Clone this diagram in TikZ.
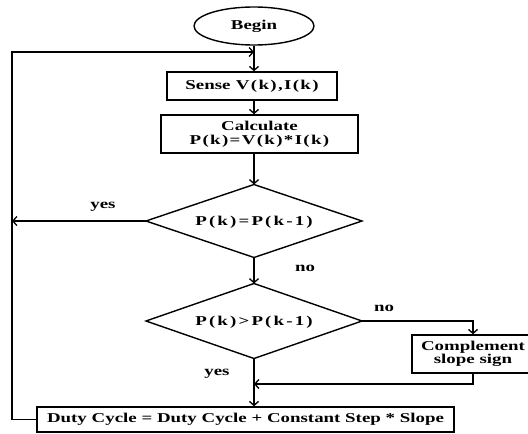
\documentclass[tikz,border=0pt]{standalone}
\usepackage{fontspec}
\newfontfamily\wide[FakeStretch=1.4]{Liberation Serif Bold}
\usetikzlibrary{arrows.meta,shapes.geometric}
\newcommand{\gp}{\hspace{0.1em}}
\newcommand{\gq}{\hspace{0.16em}}
\tikzset{
  flow/.style={line width=1.4pt, draw=black},
  arr/.style={flow, -{Straight Barb[length=4pt,width=9pt,line width=1.3pt]}},
  mainfont/.style={font=\fontsize{13.5}{16}\wide},
  procbox/.style={draw, line width=1.4pt, rectangle, inner sep=0pt, align=center, mainfont},
  dectext/.style={inner sep=0pt, mainfont},
  lbl/.style={mainfont, inner sep=0pt}
}
\begin{document}
\begin{tikzpicture}[x=1pt,y=-1pt]
\useasboundingbox[fill=white] (0,0) rectangle (528,434);
\node[draw, line width=1.4pt, ellipse, minimum width=120pt, minimum height=38pt, inner sep=0pt, mainfont] (begin) at (254,26) {Begin};
\node[procbox, minimum width=170pt, minimum height=28pt] (sense) at (252,86) {Sense\hspace{0.4em}V\gp(\gp k\gp)\gp,\gp I\gp(\gp k\gp)};
\node[procbox, minimum width=197pt, minimum height=38pt] (calc) at (259.5,134) {Calculate\\[-2pt] P\gp(\gp k\gp)\gp=\gp V\gp(\gp k\gp)\gp*\gp I\gp(\gp k\gp)};

% decision 1
\node[dectext] (d1) at (254,222) {P\gq(\gq k\gq)\gq=\gq P\gq(\gq k\gq-\gq 1\gq)};
\coordinate (d1n) at (254,184.5);
\coordinate (d1s) at (254,257.5);
\coordinate (d1w) at (146,221);
\coordinate (d1e) at (362,221);
\draw[flow, line join=miter] (d1n) -- (d1e) -- (d1s) -- (d1w) -- cycle;

% decision 2
\node[dectext] (d2) at (254,322) {P\gq(\gq k\gq)\gq>\gq P\gq(\gq k\gq-\gq 1\gq)};
\coordinate (d2n) at (254,283.5);
\coordinate (d2s) at (254,358.5);
\coordinate (d2w) at (146,321);
\coordinate (d2e) at (362,321);
\draw[flow, line join=miter] (d2n) -- (d2e) -- (d2s) -- (d2w) -- cycle;

\node[procbox, minimum width=122pt, minimum height=38pt] (comp) at (473,354) {Complement\\[-3pt] slope sign};
\node[procbox, minimum width=417pt, minimum height=25pt] (duty) at (245.5,419.5) {Duty Cycle = Duty Cycle + Constant Step * Slope};

\coordinate (topin) at (254,52);
\coordinate (loopbl) at (12,419.5);
\coordinate (looptl) at (12,52);
\coordinate (yesend) at (12,221);
\coordinate (nocorner) at (473,321);
\coordinate (retcorner) at (473,384);
\coordinate (retend) at (254,384);

\draw[flow] (begin.south) -- (topin);
\draw[arr] (topin) -- (topin |- sense.north);
\draw[arr] (sense.south -| topin) -- (topin |- calc.north);
\draw[arr] (calc.south -| topin) -- (d1n);
\draw[arr] (d1s) -- (d2n);
\draw[arr] (d1w) -- (yesend);
\draw[arr] (d2e) -- (nocorner) -- (comp.north);
\draw[arr] (comp.south) -- (retcorner) -- (retend);
\draw[arr] (d2s) -- (d2s |- duty.north);
\draw[arr] (duty.west) -- (loopbl) -- (looptl) -- (topin);

\node[lbl] (lyes1) at (103,207) {yes};
\node[lbl] (lno1) at (305,268) {no};
\node[lbl] (lno2) at (384,308) {no};
\node[lbl] (lyes2) at (217,374) {yes};
\end{tikzpicture}
\end{document}
